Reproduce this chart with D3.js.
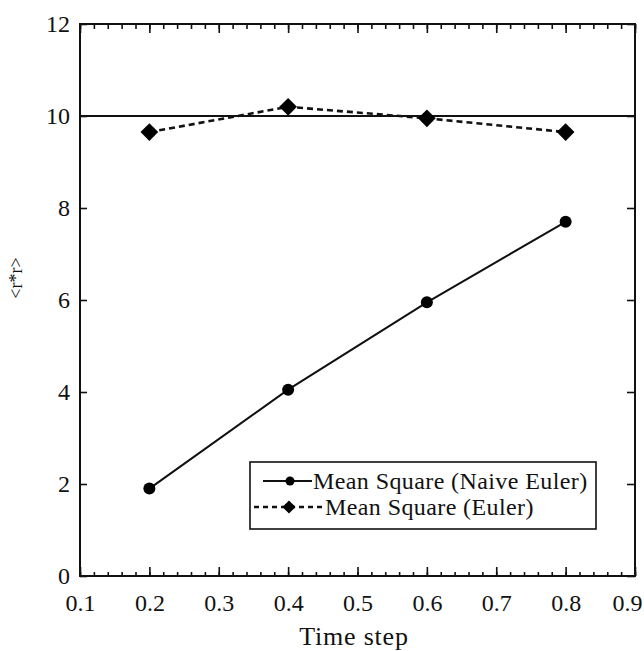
<!DOCTYPE html>
<html>
<head>
<meta charset="utf-8">
<script src="https://cdn.jsdelivr.net/npm/d3@7"></script>
<style>
  html, body { margin: 0; padding: 0; background: #fff; }
  svg { display: block; }
  text { font-family: "Liberation Serif", "DejaVu Serif", serif; fill: #111; }
</style>
</head>
<body>
<script>
// ---- data ----
const timeSteps = [0.2, 0.4, 0.6, 0.8];
const naiveEulerMeanSquare = [1.9, 4.05, 5.95, 7.7];
const eulerMeanSquare = [9.65, 10.2, 9.95, 9.65];
const referenceValue = [10];
const xTickValues = [0.1, 0.2, 0.3, 0.4, 0.5, 0.6, 0.7, 0.8, 0.9];
const yTickValues = [0, 2, 4, 6, 8, 10, 12];
const seriesNames = ["Mean Square (Naive Euler)", "Mean Square (Euler)"];
const xLabel = "Time step";
const yLabel = "<r*r>";

// ---- layout ----
const W = 644, H = 651;
const plot = { left: 80, right: 635, top: 24, bottom: 576 };

const svg = d3.select("body").append("svg").attr("width", W).attr("height", H);

const x = d3.scaleLinear().domain([0.1, 0.9]).range([plot.left, plot.right]);
const y = d3.scaleLinear().domain([0, 12]).range([plot.bottom, plot.top]);

const minorX = d3.range(0.1, 0.9001, 0.02).map(v => +v.toFixed(2));

function styleAxis(g) {
  g.select(".domain").remove();
  g.selectAll(".tick line").attr("stroke", "#111").attr("stroke-width", 1.6);
  g.selectAll(".tick text").attr("font-size", 24).attr("fill", "#111")
    .attr("font-family", "'Liberation Serif', serif");
}

// bottom axis major + minor (inward)
svg.append("g").attr("transform", `translate(0,${plot.bottom})`)
  .call(d3.axisBottom(x).tickValues(minorX).tickSize(-4).tickFormat(""))
  .call(styleAxis);
const bottomAxis = svg.append("g").attr("transform", `translate(0,${plot.bottom})`)
  .call(d3.axisBottom(x).tickValues(xTickValues).tickSize(-9).tickPadding(18)
    .tickFormat(d3.format(".1f")))
  .call(styleAxis);
// keep the last label inside the page
bottomAxis.selectAll(".tick text").filter(d => d === 0.9).attr("dx", -8);

// top axis major + minor (inward)
svg.append("g").attr("transform", `translate(0,${plot.top})`)
  .call(d3.axisTop(x).tickValues(minorX).tickSize(-5).tickFormat(""))
  .call(styleAxis);
svg.append("g").attr("transform", `translate(0,${plot.top})`)
  .call(d3.axisTop(x).tickValues(xTickValues).tickSize(-9).tickFormat(""))
  .call(styleAxis);

// left axis (inward)
svg.append("g").attr("transform", `translate(${plot.left},0)`)
  .call(d3.axisLeft(y).tickValues(yTickValues).tickSize(-7).tickPadding(10)
    .tickFormat(d3.format("d")))
  .call(styleAxis);

// right axis (inward)
svg.append("g").attr("transform", `translate(${plot.right},0)`)
  .call(d3.axisRight(y).tickValues(yTickValues).tickSize(-8).tickFormat(""))
  .call(styleAxis);

// frame
svg.append("rect")
  .attr("x", plot.left).attr("y", plot.top)
  .attr("width", plot.right - plot.left).attr("height", plot.bottom - plot.top)
  .attr("fill", "none").attr("stroke", "#111").attr("stroke-width", 2);

// reference line at 10
svg.selectAll("line.ref").data(referenceValue).enter().append("line")
  .attr("class", "ref")
  .attr("x1", plot.left).attr("x2", plot.right)
  .attr("y1", d => y(d)).attr("y2", d => y(d))
  .attr("stroke", "#111").attr("stroke-width", 2);

const naiveData = timeSteps.map((t, i) => ({ t, v: naiveEulerMeanSquare[i] }));
const eulerData = timeSteps.map((t, i) => ({ t, v: eulerMeanSquare[i] }));

const line = d3.line().x(d => x(d.t)).y(d => y(d.v));

svg.append("path").datum(naiveData).attr("d", line)
  .attr("fill", "none").attr("stroke", "#111").attr("stroke-width", 2);
svg.append("path").datum(eulerData).attr("d", line)
  .attr("fill", "none").attr("stroke", "#111").attr("stroke-width", 2.6)
  .attr("stroke-dasharray", "6,4");

svg.selectAll("circle.naive").data(naiveData).enter().append("circle")
  .attr("class", "naive").attr("cx", d => x(d.t)).attr("cy", d => y(d.v))
  .attr("r", 6).attr("fill", "#000");

const diamond = d3.symbol().type(d3.symbolDiamond2).size(200);
svg.selectAll("path.euler").data(eulerData).enter().append("path")
  .attr("class", "euler")
  .attr("transform", d => `translate(${x(d.t)},${y(d.v)})`)
  .attr("d", diamond).attr("fill", "#000");

// legend
const lg = svg.append("g");
lg.append("rect").attr("x", 250).attr("y", 462).attr("width", 346).attr("height", 67)
  .attr("fill", "#fff").attr("stroke", "#111").attr("stroke-width", 1.6);
// row 1
lg.append("line").attr("x1", 263).attr("x2", 312).attr("y1", 481).attr("y2", 481)
  .attr("stroke", "#111").attr("stroke-width", 2);
lg.append("circle").attr("cx", 290).attr("cy", 481).attr("r", 4.5).attr("fill", "#000");
lg.append("text").attr("x", 313).attr("y", 489).attr("font-size", 24)
  .attr("letter-spacing", 0.4).text(seriesNames[0]);
// row 2
lg.append("line").attr("x1", 254).attr("x2", 322).attr("y1", 507).attr("y2", 507)
  .attr("stroke", "#111").attr("stroke-width", 2.4).attr("stroke-dasharray", "5,4");
lg.append("path").attr("transform", "translate(289,507)")
  .attr("d", d3.symbol().type(d3.symbolDiamond2).size(110)).attr("fill", "#000");
lg.append("text").attr("x", 325).attr("y", 515).attr("font-size", 24)
  .attr("letter-spacing", 0.4).text(seriesNames[1]);

// axis titles
svg.append("text").attr("x", 354).attr("y", 645).attr("text-anchor", "middle")
  .attr("font-size", 26).attr("letter-spacing", 0.8).text(xLabel);
svg.append("text").attr("transform", "translate(22,278) rotate(-90)")
  .attr("text-anchor", "middle").attr("font-size", 18).text(yLabel);
</script>
</body>
</html>
